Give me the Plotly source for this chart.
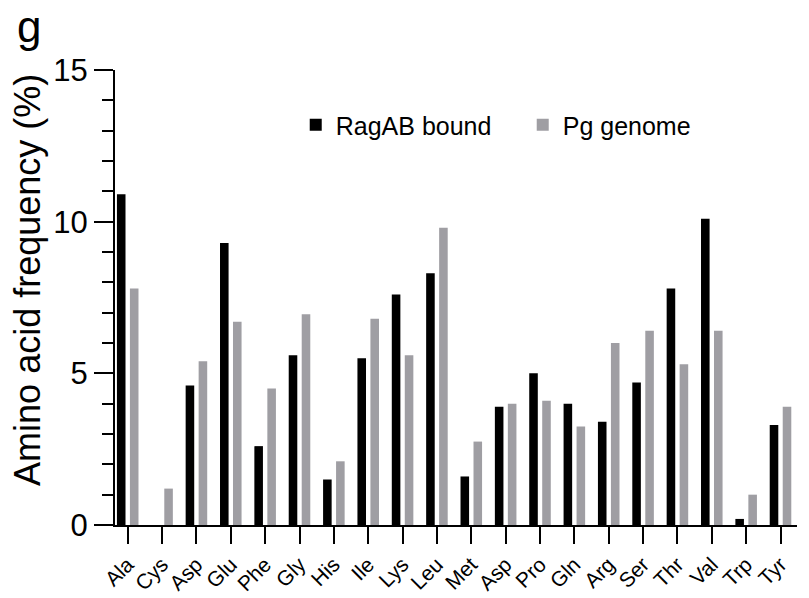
import plotly.graph_objects as go

amino_acids = ["Ala", "Cys", "Asp", "Glu", "Phe", "Gly", "His", "Ile", "Lys", "Leu",
               "Met", "Asp", "Pro", "Gln", "Arg", "Ser", "Thr", "Val", "Trp", "Tyr"]
ragab_bound = [10.9, 0.0, 4.6, 9.3, 2.6, 5.6, 1.5, 5.5, 7.6, 8.3,
               1.6, 3.9, 5.0, 4.0, 3.4, 4.7, 7.8, 10.1, 0.2, 3.3]
pg_genome = [7.8, 1.2, 5.4, 6.7, 4.5, 6.95, 2.1, 6.8, 5.6, 9.8,
             2.75, 4.0, 4.1, 3.25, 6.0, 6.4, 5.3, 6.4, 1.0, 3.9]
y_ticks = [0, 5, 10, 15]

positions = list(range(len(amino_acids)))
FONT = "Liberation Sans, Arial, Helvetica, sans-serif"

fig = go.Figure()
fig.add_trace(go.Bar(x=positions, y=ragab_bound, name="RagAB bound",
                     marker=dict(color="#000000", line=dict(width=0))))
fig.add_trace(go.Bar(x=positions, y=pg_genome, name="Pg genome",
                     marker=dict(color="#9f9ea3", line=dict(width=0))))

fig.update_layout(
    width=809, height=598,
    margin=dict(l=115, r=12, t=70, b=73),
    paper_bgcolor="white", plot_bgcolor="white",
    barmode="group", bargap=0.244, bargroupgap=0.34,
    font=dict(family=FONT, color="black"),
    showlegend=True,
    legend=dict(orientation="h", x=0.265, y=0.879, xanchor="left", yanchor="middle",
                font=dict(size=25, family=FONT, color="black"),
                entrywidth=182, bgcolor="rgba(0,0,0,0)"),
)

fig.update_xaxes(
    range=[-0.37, 19.48], automargin=False,
    tickmode="array", tickvals=positions, ticktext=amino_acids,
    tickangle=-45, tickfont=dict(size=21, family=FONT, color="black"),
    showline=True, linecolor="black", linewidth=2,
    ticks="outside", ticklen=17, tickwidth=2, tickcolor="black",
    showgrid=False, zeroline=False,
)
fig.update_yaxes(
    range=[0, 15], automargin=False,
    tickmode="array", tickvals=y_ticks,
    tickfont=dict(size=31, family=FONT, color="black"),
    showline=True, linecolor="black", linewidth=2,
    ticks="outside", ticklen=19, tickwidth=2, tickcolor="black",
    minor=dict(dtick=1, ticks="outside", ticklen=11, tickwidth=2, tickcolor="black", showgrid=False),
    showgrid=False, zeroline=False,
)

fig.add_annotation(text="Amino acid frequency (%)", textangle=-90,
                   xref="paper", yref="paper", x=-0.128, y=0.538,
                   xanchor="center", yanchor="middle", showarrow=False,
                   font=dict(size=36, family=FONT, color="black"))
fig.add_annotation(text="g", xref="paper", yref="paper", x=-0.147, y=1.154,
                   xanchor="left", yanchor="top", showarrow=False,
                   font=dict(size=44, family=FONT, color="black"))

fig.write_html("out.html")
